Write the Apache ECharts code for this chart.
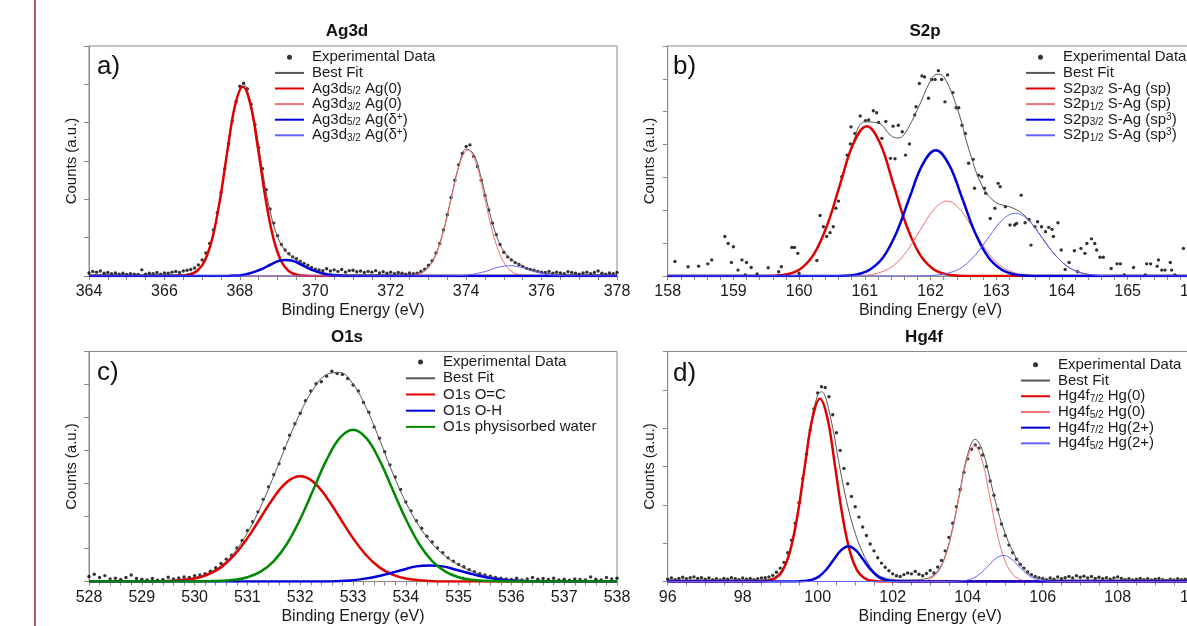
<!DOCTYPE html>
<html><head><meta charset="utf-8">
<script src="https://cdn.jsdelivr.net/npm/echarts@6/dist/echarts.min.js"></script>
<style>html,body{margin:0;padding:0;background:#fff}#c{width:1187px;height:626px}</style>
</head><body><div id="c"></div>
<script>
// ---------------- Panel a: Ag3d ----------------
const agTicks = [364, 366, 368, 370, 372, 374, 376, 378];
const agData = [[364.0,0.08],[364.1,0.12],[364.2,0.10],[364.3,0.13],[364.4,0.07],[364.5,0.09],[364.6,0.06],[364.7,0.08],[364.8,0.05],[364.9,0.07],
[365.0,0.04],[365.1,0.06],[365.2,0.05],[365.3,0.04],[365.4,0.16],[365.5,0.05],[365.6,0.07],[365.7,0.06],[365.8,0.09],[365.9,0.05],
[366.0,0.08],[366.1,0.07],[366.2,0.10],[366.3,0.12],[366.4,0.09],[366.5,0.13],[366.6,0.15],[366.7,0.17],[366.8,0.21],[366.9,0.29],
[367.0,0.42],[367.1,0.60],[367.2,0.85],[367.3,1.20],[367.4,1.65],[367.5,2.18],[367.6,2.80],[367.7,3.45],[367.8,4.05],[367.9,4.55],
[368.0,4.95],[368.1,5.03],[368.2,4.88],[368.3,4.48],[368.4,3.95],[368.5,3.35],[368.6,2.80],[368.7,2.25],[368.8,1.75],[368.9,1.38],
[369.0,1.05],[369.1,0.82],[369.2,0.68],[369.3,0.58],[369.4,0.50],[369.5,0.45],[369.6,0.38],[369.7,0.33],[369.8,0.28],[369.9,0.22],
[370.0,0.18],[370.1,0.16],[370.2,0.14],[370.3,0.19],[370.4,0.13],[370.5,0.16],[370.6,0.12],[370.7,0.17],[370.8,0.10],[370.9,0.14],
[371.0,0.15],[371.1,0.11],[371.2,0.13],[371.3,0.09],[371.4,0.12],[371.5,0.10],[371.6,0.14],[371.7,0.08],[371.8,0.11],[371.9,0.07],
[372.0,0.10],[372.1,0.06],[372.2,0.09],[372.3,0.07],[372.4,0.05],[372.5,0.08],[372.6,0.06],[372.7,0.07],[372.8,0.12],[372.9,0.18],
[373.0,0.28],[373.1,0.40],[373.2,0.60],[373.3,0.85],[373.4,1.20],[373.5,1.60],[373.6,2.05],[373.7,2.50],[373.8,2.90],[373.9,3.20],
[374.0,3.38],[374.1,3.42],[374.2,3.12],[374.3,2.85],[374.4,2.50],[374.5,2.10],[374.6,1.72],[374.7,1.38],[374.8,1.08],[374.9,0.82],
[375.0,0.62],[375.1,0.50],[375.2,0.42],[375.3,0.35],[375.4,0.30],[375.5,0.25],[375.6,0.20],[375.7,0.17],[375.8,0.15],[375.9,0.12],
[376.0,0.10],[376.1,0.09],[376.2,0.12],[376.3,0.07],[376.4,0.10],[376.5,0.08],[376.6,0.06],[376.7,0.11],[376.8,0.09],[376.9,0.07],
[377.0,0.05],[377.1,0.08],[377.2,0.10],[377.3,0.06],[377.4,0.09],[377.5,0.13],[377.6,0.07],[377.7,0.05],[377.8,0.08],[377.9,0.06],[378.0,0.09]];
const agFit = [[364,0.03],[366.4,0.03],[366.6,0.05],[366.8,0.12],[367.0,0.31],[367.2,0.76],[367.4,1.61],[367.6,2.83],[367.8,4.10],[368.0,4.89],[368.1,5.00],[368.2,4.85],[368.4,3.98],[368.6,2.75],[368.8,1.70],[369.0,1.02],[369.2,0.67],[369.4,0.49],[369.6,0.36],[369.8,0.24],[370.0,0.15],[370.2,0.09],[370.4,0.06],[370.6,0.04],[371.0,0.03],[372.4,0.03],[372.6,0.05],[372.8,0.10],[373.0,0.25],[373.2,0.58],[373.4,1.19],[373.6,2.03],[373.8,2.85],[374.0,3.31],[374.2,3.18],[374.4,2.55],[374.6,1.74],[374.8,1.06],[375.0,0.64],[375.2,0.43],[375.4,0.31],[375.6,0.22],[375.8,0.15],[376.0,0.09],[376.2,0.06],[376.4,0.04],[376.6,0.03],[378,0.03]];
const agD52Ag0 = [[364,0],[366.28,0],[366.48,0.01],[366.68,0.04],[366.88,0.14],[367.08,0.42],[367.28,1.02],[367.48,2.03],[367.68,3.33],[367.88,4.48],[368.08,4.94],[368.28,4.48],[368.48,3.33],[368.68,2.03],[368.88,1.02],[369.08,0.42],[369.28,0.14],[369.48,0.04],[369.68,0.01],[369.88,0],[378,0]];
const agD32Ag0 = [[364,0],[372.25,0],[372.45,0.01],[372.65,0.03],[372.85,0.09],[373.05,0.28],[373.25,0.68],[373.45,1.35],[373.65,2.22],[373.85,2.98],[374.05,3.29],[374.25,2.98],[374.45,2.22],[374.65,1.35],[374.85,0.68],[375.05,0.28],[375.25,0.09],[375.45,0.03],[375.65,0.01],[375.85,0],[378,0]];
const agD52AgD = [[364,0],[367.62,0],[367.82,0.01],[368.02,0.02],[368.22,0.06],[368.42,0.12],[368.62,0.20],[368.82,0.30],[369.02,0.39],[369.22,0.42],[369.42,0.39],[369.62,0.30],[369.82,0.20],[370.02,0.12],[370.22,0.06],[370.42,0.02],[370.62,0.01],[370.82,0],[378,0]];
const agD32AgD = [[364,0],[373.55,0],[373.75,0.01],[373.95,0.02],[374.15,0.04],[374.35,0.08],[374.55,0.13],[374.75,0.20],[374.95,0.25],[375.15,0.27],[375.35,0.25],[375.55,0.20],[375.75,0.13],[375.95,0.08],[376.15,0.04],[376.35,0.02],[376.55,0.01],[376.75,0],[378,0]];

// ---------------- Panel b: S2p ----------------
const s2pTicks = [158, 159, 160, 161, 162, 163, 164, 165, 166];
const s2pData = [[158.11,0.44],[158.31,0.28],[158.47,0.30],[158.61,0.37],[158.67,0.49],[158.87,1.20],[158.92,0.99],[159.00,0.89],[158.97,0.41],[159.07,0.18],
[159.13,0.49],[159.20,0.41],[159.27,0.26],[159.18,0.03],[159.36,0.06],[159.53,0.25],[159.69,0.13],[159.73,0.28],[159.89,0.87],[159.93,0.87],
[159.98,0.69],[160.00,0.08],[160.27,0.47],[160.32,1.84],[160.37,1.50],[160.42,1.20],[160.47,1.32],[160.52,1.50],[160.56,2.06],[160.60,2.28],
[160.65,3.02],[160.73,3.68],[160.78,4.02],[160.79,4.54],[160.85,4.34],[160.93,4.87],[161.01,4.73],[161.06,4.75],[161.13,5.03],[161.18,4.97],
[161.21,4.67],[161.26,4.19],[161.32,4.70],[161.39,3.58],[161.46,3.57],[161.43,4.56],[161.51,4.59],[161.57,4.39],[161.62,3.68],[161.68,4.02],
[161.76,4.90],[161.78,5.15],[161.83,5.86],[161.87,6.09],[161.91,6.06],[161.97,5.41],[162.02,5.98],[162.07,5.98],[162.12,6.25],[162.17,5.98],
[162.22,5.30],[162.26,6.12],[162.34,5.58],[162.39,5.12],[162.43,5.12],[162.48,4.59],[162.53,4.34],[162.58,3.43],[162.65,3.55],[162.67,2.67],
[162.73,3.07],[162.78,3.02],[162.82,2.67],[162.84,2.52],[162.91,1.75],[162.98,2.06],[163.03,2.82],[163.06,2.72],[163.14,2.11],[163.21,1.55],
[163.28,1.55],[163.31,1.60],[163.38,2.46],[163.44,1.62],[163.50,1.72],[163.53,0.94],[163.59,1.50],[163.63,1.65],[163.69,1.50],[163.75,1.35],
[163.80,1.48],[163.85,1.42],[163.87,1.20],[163.94,1.62],[163.99,0.79],[164.05,0.20],[164.11,0.41],[164.19,0.77],[164.24,0.13],[164.29,0.84],
[164.35,0.69],[164.38,0.99],[164.45,1.13],[164.50,0.99],[164.53,0.79],[164.58,0.57],[164.63,0.57],[164.75,0.23],[164.84,0.37],[164.89,0.37],
[164.95,0.03],[165.09,0.26],[165.27,0.03],[165.29,0.37],[165.35,0.37],[165.45,0.30],[165.47,0.49],[165.52,0.18],[165.57,0.18],[165.65,0.41],
[165.67,0.18],[165.72,0.03],[165.85,0.84]];
const s2pFit = [[158,0],[159.4,0],[159.6,0.01],[159.8,0.05],[160.0,0.19],[160.2,0.58],[160.4,1.40],[160.6,2.64],[160.8,3.93],[161.0,4.69],[161.2,4.66],[161.4,4.27],[161.5,4.20],[161.6,4.31],[161.8,5.06],[162.0,5.94],[162.1,6.14],[162.2,6.07],[162.4,5.15],[162.6,3.75],[162.8,2.69],[163.0,2.23],[163.2,2.11],[163.4,1.90],[163.6,1.44],[163.8,0.88],[164.0,0.43],[164.2,0.16],[164.4,0.05],[164.6,0.01],[164.8,0],[166,0]];
const s2p32Sp = [[158,0],[159.43,0],[159.63,0.01],[159.83,0.06],[160.03,0.23],[160.23,0.68],[160.43,1.56],[160.63,2.83],[160.83,4.05],[161.03,4.56],[161.23,4.05],[161.43,2.83],[161.63,1.56],[161.83,0.68],[162.03,0.23],[162.23,0.06],[162.43,0.01],[162.63,0],[166,0]];
const s2p12Sp = [[158,0],[160.65,0],[160.85,0.01],[161.05,0.03],[161.25,0.12],[161.45,0.34],[161.65,0.78],[161.85,1.42],[162.05,2.02],[162.25,2.28],[162.45,2.02],[162.65,1.42],[162.85,0.78],[163.05,0.34],[163.25,0.12],[163.45,0.03],[163.65,0.01],[163.85,0],[166,0]];
const s2p32Sp3 = [[158,0],[160.48,0],[160.68,0.01],[160.88,0.05],[161.08,0.20],[161.28,0.57],[161.48,1.31],[161.68,2.38],[161.88,3.40],[162.08,3.83],[162.28,3.40],[162.48,2.38],[162.68,1.31],[162.88,0.57],[163.08,0.20],[163.28,0.05],[163.48,0.01],[163.68,0],[166,0]];
const s2p12Sp3 = [[158,0],[161.69,0],[161.89,0.01],[162.09,0.03],[162.29,0.10],[162.49,0.28],[162.69,0.66],[162.89,1.19],[163.09,1.70],[163.29,1.91],[163.49,1.70],[163.69,1.19],[163.89,0.66],[164.09,0.28],[164.29,0.10],[164.49,0.03],[164.69,0.01],[164.89,0],[166,0]];

// ---------------- Panel c: O1s ----------------
const o1sTicks = [528, 529, 530, 531, 532, 533, 534, 535, 536, 537, 538];
const o1sData = [[528.0,0.15],[528.1,0.22],[528.2,0.12],[528.3,0.18],[528.4,0.08],[528.5,0.10],[528.6,0.06],[528.7,0.12],[528.8,0.20],[528.9,0.09],
[529.0,0.07],[529.1,0.05],[529.2,0.09],[529.3,0.04],[529.4,0.06],[529.5,0.13],[529.6,0.08],[529.7,0.11],[529.8,0.14],[529.9,0.12],
[530.0,0.18],[530.1,0.20],[530.2,0.24],[530.3,0.31],[530.4,0.42],[530.5,0.55],[530.6,0.68],[530.7,0.80],[530.8,1.02],[530.9,1.25],
[531.0,1.55],[531.1,1.82],[531.2,2.12],[531.3,2.50],[531.4,2.88],[531.5,3.25],[531.6,3.58],[531.7,4.05],[531.8,4.45],[531.9,4.80],
[532.0,5.12],[532.1,5.50],[532.2,5.80],[532.3,6.02],[532.4,6.08],[532.5,6.25],[532.6,6.40],[532.7,6.33],[532.8,6.30],[532.9,6.18],
[533.0,5.98],[533.1,5.80],[533.2,5.45],[533.3,5.15],[533.4,4.70],[533.5,4.36],[533.6,3.95],[533.7,3.55],[533.8,3.18],[533.9,2.80],
[534.0,2.42],[534.1,2.15],[534.2,1.85],[534.3,1.62],[534.4,1.38],[534.5,1.20],[534.6,1.02],[534.7,0.88],[534.8,0.72],[534.9,0.62],
[535.0,0.52],[535.1,0.45],[535.2,0.36],[535.3,0.30],[535.4,0.24],[535.5,0.20],[535.6,0.16],[535.7,0.12],[535.8,0.10],[535.9,0.08],
[536.0,0.06],[536.1,0.10],[536.2,0.05],[536.3,0.08],[536.4,0.12],[536.5,0.07],[536.6,0.09],[536.7,0.06],[536.8,0.10],[536.9,0.05],
[537.0,0.07],[537.1,0.04],[537.2,0.08],[537.3,0.06],[537.4,0.05],[537.5,0.14],[537.6,0.07],[537.7,0.05],[537.8,0.12],[537.9,0.08],[538.0,0.10]];
const o1sFit = [[528,0.03],[529.25,0.03],[529.5,0.04],[529.75,0.07],[530.0,0.12],[530.25,0.25],[530.5,0.48],[530.75,0.88],[531.0,1.48],[531.25,2.27],[531.5,3.21],[531.75,4.21],[532.0,5.13],[532.25,5.86],[532.5,6.30],[532.75,6.36],[533.0,6.01],[533.25,5.29],[533.5,4.33],[533.75,3.31],[534.0,2.41],[534.25,1.69],[534.5,1.15],[534.75,0.77],[535.0,0.50],[535.25,0.31],[535.5,0.18],[535.75,0.11],[536.0,0.06],[536.25,0.04],[536.5,0.03],[538,0.03]];
const o1sOC = [[528,0],[529.0,0],[529.25,0],[529.5,0.01],[529.75,0.04],[530.0,0.09],[530.25,0.21],[530.5,0.43],[530.75,0.80],[531.0,1.32],[531.25,1.94],[531.5,2.56],[531.75,3.03],[532.0,3.20],[532.25,3.03],[532.5,2.56],[532.75,1.94],[533.0,1.32],[533.25,0.80],[533.5,0.43],[533.75,0.21],[534.0,0.09],[534.25,0.04],[534.5,0.01],[534.75,0],[538,0]];
const o1sOH = [[528,0],[532.2,0],[532.45,0],[532.7,0.01],[532.95,0.03],[533.2,0.08],[533.45,0.15],[533.7,0.25],[533.95,0.36],[534.2,0.46],[534.45,0.49],[534.7,0.46],[534.95,0.36],[535.2,0.25],[535.45,0.15],[535.7,0.08],[535.95,0.03],[536.2,0.01],[536.45,0],[538,0]];
const o1sWater = [[528,0],[530.0,0],[530.25,0.01],[530.5,0.02],[530.75,0.05],[531.0,0.13],[531.25,0.30],[531.5,0.62],[531.75,1.15],[532.0,1.90],[532.25,2.80],[532.5,3.70],[532.75,4.37],[533.0,4.62],[533.25,4.37],[533.5,3.70],[533.75,2.80],[534.0,1.90],[534.25,1.15],[534.5,0.62],[534.75,0.30],[535.0,0.13],[535.25,0.05],[535.5,0.02],[535.75,0.01],[536.0,0],[538,0]];

// ---------------- Panel d: Hg4f ----------------
const hgTicks = [96, 98, 100, 102, 104, 106, 108, 110];
const hgData = [[96.0,0.06],[96.1,0.09],[96.2,0.05],[96.3,0.08],[96.4,0.11],[96.5,0.07],[96.6,0.10],[96.7,0.12],[96.8,0.08],[96.9,0.10],
[97.0,0.06],[97.1,0.09],[97.2,0.05],[97.3,0.07],[97.4,0.04],[97.5,0.08],[97.6,0.06],[97.7,0.10],[97.8,0.07],[97.9,0.05],
[98.0,0.09],[98.1,0.06],[98.2,0.08],[98.3,0.05],[98.4,0.07],[98.5,0.09],[98.6,0.10],[98.7,0.12],[98.8,0.16],[98.9,0.24],
[99.0,0.35],[99.1,0.50],[99.2,0.75],[99.3,1.08],[99.4,1.52],[99.5,2.05],[99.6,2.68],[99.7,3.32],[99.8,3.95],[99.9,4.50],
[100.0,4.92],[100.1,5.08],[100.2,5.06],[100.3,4.82],[100.4,4.35],[100.5,3.88],[100.6,3.42],[100.7,2.95],[100.8,2.55],[100.9,2.22],
[101.0,1.95],[101.1,1.68],[101.2,1.42],[101.3,1.20],[101.4,0.98],[101.5,0.80],[101.6,0.62],[101.7,0.48],[101.8,0.37],[101.9,0.28],
[102.0,0.20],[102.1,0.15],[102.2,0.13],[102.3,0.18],[102.4,0.22],[102.5,0.20],[102.6,0.26],[102.7,0.19],[102.8,0.15],[102.9,0.21],
[103.0,0.29],[103.1,0.22],[103.2,0.38],[103.3,0.55],[103.4,0.80],[103.5,1.15],[103.6,1.52],[103.7,1.95],[103.8,2.40],[103.9,2.85],
[104.0,3.20],[104.1,3.45],[104.2,3.56],[104.3,3.48],[104.4,3.30],[104.5,3.00],[104.6,2.62],[104.7,2.25],[104.8,1.88],[104.9,1.50],
[105.0,1.20],[105.1,0.95],[105.2,0.75],[105.3,0.58],[105.4,0.45],[105.5,0.35],[105.6,0.25],[105.7,0.18],[105.8,0.13],[105.9,0.10],
[106.0,0.08],[106.1,0.05],[106.2,0.09],[106.3,0.06],[106.4,0.12],[106.5,0.07],[106.6,0.10],[106.7,0.13],[106.8,0.09],[106.9,0.15],
[107.0,0.11],[107.1,0.14],[107.2,0.09],[107.3,0.13],[107.4,0.08],[107.5,0.11],[107.6,0.07],[107.7,0.10],[107.8,0.06],[107.9,0.09],
[108.0,0.12],[108.1,0.08],[108.2,0.05],[108.3,0.07],[108.4,0.04],[108.5,0.06],[108.6,0.08],[108.7,0.05],[108.8,0.07],[108.9,0.04],
[109.0,0.06],[109.1,0.08],[109.2,0.05],[109.3,0.03],[109.4,0.06],[109.5,0.04],[109.6,0.07],[109.7,0.05],[109.8,0.06],[109.9,0.04],[110.0,0.05]];
const hgFit = [[96,0.04],[98.4,0.04],[98.6,0.05],[98.8,0.09],[99.0,0.24],[99.2,0.63],[99.4,1.43],[99.6,2.66],[99.8,4.02],[100.0,4.87],[100.1,4.95],[100.2,4.83],[100.4,4.01],[100.6,2.92],[100.8,1.97],[101.0,1.26],[101.2,0.75],[101.4,0.39],[101.6,0.18],[101.8,0.09],[102.0,0.05],[102.2,0.04],[102.6,0.04],[102.8,0.06],[103.0,0.11],[103.2,0.27],[103.4,0.67],[103.6,1.41],[103.8,2.40],[104.0,3.32],[104.2,3.71],[104.4,3.40],[104.6,2.65],[104.8,1.86],[105.0,1.25],[105.2,0.79],[105.4,0.45],[105.6,0.23],[105.8,0.11],[106.0,0.06],[106.2,0.04],[110,0.04]];
const hgF72Hg0 = [[96,0],[98.46,0],[98.66,0.02],[98.86,0.08],[99.06,0.28],[99.26,0.78],[99.46,1.72],[99.66,3.03],[99.86,4.26],[100.06,4.77],[100.26,4.26],[100.46,3.03],[100.66,1.72],[100.86,0.78],[101.06,0.28],[101.26,0.08],[101.46,0.02],[101.66,0],[110,0]];
const hgF52Hg0 = [[96,0],[102.58,0],[102.78,0.01],[102.98,0.06],[103.18,0.21],[103.38,0.58],[103.58,1.28],[103.78,2.25],[103.98,3.17],[104.18,3.55],[104.38,3.17],[104.58,2.25],[104.78,1.28],[104.98,0.58],[105.18,0.21],[105.38,0.06],[105.58,0.01],[105.78,0],[110,0]];
const hgF72Hg2 = [[96,0],[99.42,0],[99.62,0.01],[99.82,0.04],[100.02,0.12],[100.22,0.30],[100.42,0.56],[100.62,0.81],[100.82,0.92],[101.02,0.81],[101.22,0.56],[101.42,0.30],[101.62,0.12],[101.82,0.04],[102.02,0.01],[102.22,0],[110,0]];
const hgF52Hg2 = [[96,0],[103.55,0],[103.75,0.01],[103.95,0.03],[104.15,0.09],[104.35,0.22],[104.55,0.41],[104.75,0.60],[104.95,0.68],[105.15,0.60],[105.35,0.41],[105.55,0.22],[105.75,0.09],[105.95,0.03],[106.15,0.01],[106.35,0],[110,0]];

// ---------------- Labels ----------------
const panelTitles = ['Ag3d', 'S2p', 'O1s', 'Hg4f'];
const panelLetters = ['a)', 'b)', 'c)', 'd)'];
const xAxisTitle = 'Binding Energy (eV)';
const yAxisTitle = 'Counts (a.u.)';
const legendText = {
  aExp: 'Experimental Data', aFit: 'Best Fit',
  aR52: 'Ag3d{sub|5/2} Ag(0)', aR32: 'Ag3d{sub|3/2} Ag(0)',
  aB52: 'Ag3d{sub|5/2} Ag(δ{sup|+})', aB32: 'Ag3d{sub|3/2} Ag(δ{sup|+})',
  bExp: 'Experimental Data', bFit: 'Best Fit',
  bR32: 'S2p{sub|3/2} S-Ag (sp)', bR12: 'S2p{sub|1/2} S-Ag (sp)',
  bB32: 'S2p{sub|3/2} S-Ag (sp{sup|3})', bB12: 'S2p{sub|1/2} S-Ag (sp{sup|3})',
  cExp: 'Experimental Data', cFit: 'Best Fit',
  cOC: 'O1s O=C', cOH: 'O1s O-H', cW: 'O1s physisorbed water',
  dExp: 'Experimental Data', dFit: 'Best Fit',
  dR72: 'Hg4f{sub|7/2} Hg(0)', dR52: 'Hg4f{sub|5/2} Hg(0)',
  dB72: 'Hg4f{sub|7/2} Hg(2+)', dB52: 'Hg4f{sub|5/2} Hg(2+)'
};

// ---------------- Styling / layout ----------------
const FONT = "'Liberation Sans', Arial, Helvetica, sans-serif";
const AX = '#8a8a8a';
const C = { fit: '#555555', red: '#e00000', redThin: '#f07070', blue: '#0000dd', blueThin: '#6262ff', green: '#008a00' };
const grids = [
  { left: 89, top: 46, width: 528, height: 230 },
  { left: 667.7, top: 46, width: 525.6, height: 230 },
  { left: 89, top: 351.5, width: 528, height: 230 },
  { left: 667.7, top: 351.5, width: 525, height: 230 }
];
const xCfg = [
  { ticks: agTicks, interval: 2, minor: 4 },
  { ticks: s2pTicks, interval: 1, minor: 5 },
  { ticks: o1sTicks, interval: 1, minor: 5 },
  { ticks: hgTicks, interval: 2, minor: 4 }
];
const yMax = [6, 7, 7, 6];

const xAxes = xCfg.map((c, i) => ({
  type: 'value', gridIndex: i, min: c.ticks[0], max: c.ticks[c.ticks.length - 1], interval: c.interval,
  axisLine: { show: true, lineStyle: { color: AX, width: 1 } },
  axisTick: { show: true, length: 4, lineStyle: { color: AX } },
  minorTick: { show: true, splitNumber: c.minor, length: 4, lineStyle: { color: AX } },
  splitLine: { show: false },
  axisLabel: { fontSize: 16, color: '#1a1a1a', margin: 8, fontFamily: FONT, showMinLabel: true, showMaxLabel: true },
  name: xAxisTitle, nameLocation: 'middle', nameGap: 27,
  nameTextStyle: { fontSize: 16, color: '#1a1a1a', fontFamily: FONT }
}));
const yAxes = yMax.map((m, i) => ({
  type: 'value', gridIndex: i, min: 0, max: m, interval: 1,
  axisLine: { show: true, lineStyle: { color: AX, width: 1 } },
  axisTick: { show: true, length: 5, lineStyle: { color: AX } },
  axisLabel: { show: false }, splitLine: { show: false },
  name: yAxisTitle, nameLocation: 'middle', nameGap: 10,
  nameTextStyle: { fontSize: 15, color: '#1a1a1a', fontFamily: FONT }
}));

function scatter(name, idx, data) {
  return { name, type: 'scatter', xAxisIndex: idx, yAxisIndex: idx, data, symbol: 'circle', symbolSize: 3.4,
    itemStyle: { color: '#000' }, z: 2, silent: true };
}
function line(name, idx, data, color, width, z) {
  return { name, type: 'line', xAxisIndex: idx, yAxisIndex: idx, data, symbol: 'none', showSymbol: false,
    smooth: 0.4, lineStyle: { color, width }, itemStyle: { color }, z: z, silent: true };
}

const series = [
  scatter('aExp', 0, agData),
  line('aFit', 0, agFit, C.fit, 1, 3),
  line('aR52', 0, agD52Ag0, C.red, 2.5, 4),
  line('aR32', 0, agD32Ag0, C.redThin, 1, 5),
  line('aB52', 0, agD52AgD, C.blue, 2.5, 6),
  line('aB32', 0, agD32AgD, C.blueThin, 1, 7),

  scatter('bExp', 1, s2pData),
  line('bFit', 1, s2pFit, C.fit, 1, 3),
  line('bR32', 1, s2p32Sp, C.red, 2.5, 4),
  line('bR12', 1, s2p12Sp, C.redThin, 1, 5),
  line('bB32', 1, s2p32Sp3, C.blue, 2.5, 6),
  line('bB12', 1, s2p12Sp3, C.blueThin, 1, 7),

  scatter('cExp', 2, o1sData),
  line('cFit', 2, o1sFit, C.fit, 1, 3),
  line('cOC', 2, o1sOC, C.red, 2.5, 4),
  line('cOH', 2, o1sOH, C.blue, 2.5, 5),
  line('cW', 2, o1sWater, C.green, 2.5, 6),

  scatter('dExp', 3, hgData),
  line('dFit', 3, hgFit, C.fit, 1, 3),
  line('dR72', 3, hgF72Hg0, C.red, 2.5, 4),
  line('dR52', 3, hgF52Hg0, C.redThin, 1, 5),
  line('dB72', 3, hgF72Hg2, C.blue, 2.5, 6),
  line('dB52', 3, hgF52Hg2, C.blueThin, 1, 7)
];

function legend(names, left, top, lh) {
  return {
    orient: 'vertical', left, top, padding: 0, itemGap: 0, itemWidth: 29, itemHeight: 5,
    selectedMode: false,
    data: names.map((n, k) => k === 0 ? { name: n } : { name: n, itemStyle: { opacity: 0 } }),
    formatter: n => legendText[n],
    textStyle: { fontSize: 15, color: '#1a1a1a', fontFamily: FONT, lineHeight: lh, padding: [0, 0, 0, 3],
      rich: {
        sub: { fontSize: 10, fontFamily: FONT, color: '#1a1a1a', lineHeight: 10, verticalAlign: 'bottom' },
        sup: { fontSize: 10, fontFamily: FONT, color: '#1a1a1a', lineHeight: 10, verticalAlign: 'top' }
      } }
  };
}
const legends = [
  legend(['aExp','aFit','aR52','aR32','aB52','aB32'], 274, 49.5, 15.6),
  legend(['bExp','bFit','bR32','bR12','bB32','bB12'], 1025, 49.5, 15.6),
  legend(['cExp','cFit','cOC','cOH','cW'], 405, 354, 16.2),
  legend(['dExp','dFit','dR72','dR52','dB72','dB52'], 1020, 357, 15.7)
];

const titleCenters = [[347, 21], [925, 21], [347, 327], [924, 327]];
const titles = panelTitles.map((t, i) => ({
  text: t, left: titleCenters[i][0], top: titleCenters[i][1], textAlign: 'center', padding: 0,
  textStyle: { fontSize: 17, fontWeight: 'bold', color: '#111', fontFamily: FONT, lineHeight: 20 }
}));

const letterPos = [[97, 66.5], [673, 66.5], [97, 373], [673, 374]];
const graphics = panelLetters.map((t, i) => ({
  type: 'text', x: letterPos[i][0], y: letterPos[i][1], silent: true,
  style: { text: t, fontSize: 26, fontFamily: FONT, fill: '#111', verticalAlign: 'middle', align: 'left' }
}));
graphics.push({ type: 'line', silent: true, shape: { x1: 35, y1: 0, x2: 35, y2: 626 },
  style: { stroke: '#a3303f', lineWidth: 1.6 } });

const option = {
  animation: false,
  backgroundColor: '#ffffff',
  textStyle: { fontFamily: FONT },
  title: titles,
  grid: grids.map(g => Object.assign({ show: true, borderColor: AX, borderWidth: 1, backgroundColor: 'transparent',
    containLabel: false, outerBoundsMode: 'none' }, g)),
  xAxis: xAxes,
  yAxis: yAxes,
  legend: legends,
  graphic: graphics,
  series
};

const chart = echarts.init(document.getElementById('c'), null, { renderer: 'canvas' });
chart.setOption(option);
</script></body></html>
